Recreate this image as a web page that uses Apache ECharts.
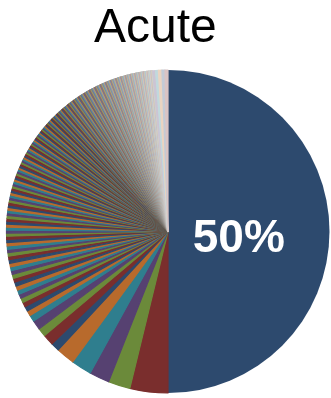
<!DOCTYPE html>
<html>
<head>
<meta charset="utf-8">
<script src="https://cdn.jsdelivr.net/npm/echarts@6/dist/echarts.min.js"></script>
<style>
  html, body { margin: 0; padding: 0; background: #ffffff; }
  #chart { width: 331px; height: 398px; }
</style>
</head>
<body>
<div id="chart"></div>
<script>
// Shares (percent of all cases), in the order the slices are drawn clockwise from 12 o'clock.
const leadShare = [50];
const majorShares = [3.8, 2.2, 2.0, 2.05, 1.85, 0.85, 1.1, 0.85, 0.95, 0.65];
const midShares = [
  0.52, 0.48, 0.47, 0.45, 0.44, 0.43, 0.42, 0.41, 0.40, 0.39,
  0.38, 0.38, 0.37, 0.36, 0.35, 0.35, 0.34, 0.33, 0.33, 0.32,
  0.31, 0.31, 0.30, 0.30, 0.29, 0.29, 0.28, 0.28, 0.27, 0.27,
  0.26, 0.26, 0.26, 0.25, 0.25, 0.24, 0.24, 0.24, 0.23, 0.23,
  0.23, 0.22, 0.22, 0.22, 0.21, 0.21, 0.21, 0.20
];
const minorShares = [
  0.20, 0.20, 0.19, 0.19, 0.19, 0.18, 0.18, 0.18, 0.18, 0.17,
  0.17, 0.17, 0.17, 0.16, 0.16, 0.16, 0.16, 0.16, 0.15, 0.15,
  0.15, 0.15, 0.15, 0.15, 0.14, 0.14, 0.14, 0.14, 0.14, 0.14,
  0.14, 0.13, 0.13, 0.13, 0.13, 0.13, 0.13, 0.13, 0.12, 0.12,
  0.12, 0.12, 0.12, 0.12, 0.12, 0.12, 0.12, 0.12, 0.12, 0.12,
  0.12, 0.12, 0.12, 0.12, 0.11, 0.11, 0.11, 0.11, 0.11, 0.11,
  0.11, 0.11, 0.11, 0.11, 0.11, 0.11, 0.11, 0.11, 0.11, 0.11,
  0.11, 0.11, 0.11, 0.10, 0.10, 0.10, 0.10, 0.10, 0.10, 0.10,
  0.10, 0.10, 0.10, 0.10, 0.10, 0.10, 0.10, 0.10, 0.10, 0.10,
  0.10, 0.10, 0.10, 0.10, 0.09, 0.09, 0.09, 0.09, 0.09, 0.09,
  0.09, 0.09, 0.09, 0.09, 0.09, 0.09, 0.09, 0.09, 0.09, 0.09,
  0.09, 0.09, 0.09, 0.08, 0.08, 0.08, 0.08, 0.08, 0.08, 0.08,
  0.08, 0.08, 0.08, 0.08, 0.08, 0.08, 0.08, 0.08, 0.08, 0.08,
  0.08, 0.08, 0.08, 0.07, 0.07, 0.07, 0.07, 0.07, 0.07, 0.07,
  0.07, 0.07, 0.07, 0.07, 0.07, 0.07, 0.07, 0.07, 0.07, 0.07,
  0.06, 0.06, 0.06, 0.06, 0.06, 0.06, 0.06, 0.06, 0.06, 0.06
];
const tailShares = [0.30, 0.28, 0.35, 0.30, 0.30];

const shares = [].concat(leadShare, majorShares, midShares, minorShares, tailShares);

// Six-colour cycle; the last stretch of slices fades toward white.
const palette = ['#2D4A6E', '#7A2E2D', '#6B8A3A', '#564171', '#2F7E8E', '#B86A2C'];
const fadeFrom = 100;
const fadeMax = 0.72;

function mixWhite(hex, t) {
  const n = parseInt(hex.slice(1), 16);
  const ch = [(n >> 16) & 255, (n >> 8) & 255, n & 255].map(c => Math.round(c + (255 - c) * t));
  return 'rgb(' + ch.join(',') + ')';
}

function sliceColor(i) {
  const base = palette[i % palette.length];
  const k = Math.max(0, (i - fadeFrom) / (shares.length - 1 - fadeFrom));
  return mixWhite(base, fadeMax * k);
}

// Thin slices get a same-colour outline so anti-aliased seams do not let the white show through.
const pieData = shares.map((v, i) => {
  const c = sliceColor(i);
  const item = { value: v, itemStyle: { color: c, borderColor: c, borderWidth: i === 0 ? 0 : 1.2 } };
  if (i === 0) {
    item.label = {
      show: true,
      position: 'inside',
      formatter: '{d}%',
      color: '#ffffff',
      fontSize: 46,
      fontWeight: 'bold',
      fontFamily: 'Liberation Sans, Arial, sans-serif',
      offset: [-13, 8]
    };
  }
  return item;
});

const chart = echarts.init(document.getElementById('chart'), null, { renderer: 'canvas' });
chart.setOption({
  animation: false,
  backgroundColor: '#ffffff',
  title: {
    text: 'Acute',
    left: 89,
    top: 0,
    textStyle: {
      fontFamily: 'Liberation Sans, Arial, sans-serif',
      fontSize: 48,
      fontWeight: 'normal',
      color: '#000000'
    }
  },
  series: [{
    type: 'pie',
    center: [168, 231.5],
    radius: 161.5,
    startAngle: 90,
    clockwise: true,
    percentPrecision: 0,
    avoidLabelOverlap: false,
    label: { show: false },
    labelLine: { show: false },
    emphasis: { disabled: true },
    data: pieData
  }]
});
</script>
</body>
</html>
